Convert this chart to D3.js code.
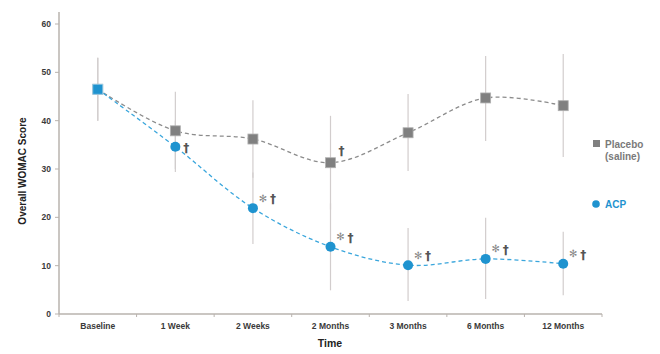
<!DOCTYPE html>
<html lang="en"><head>
<meta charset="utf-8">
<title>WOMAC</title>
<script src="https://cdnjs.cloudflare.com/ajax/libs/d3/7.8.5/d3.min.js"></script>
<style>
body { margin: 0; background: #fff; }
svg text { font-family: Arial, "Liberation Sans", sans-serif; font-weight: bold; }
svg text.mark { font-family: "DejaVu Sans", sans-serif; }
</style>
</head>
<body>
<svg id="chart" width="660" height="354"></svg>
<script>
// data
var timepoints = ["Baseline", "1 Week", "2 Weeks", "2 Months", "3 Months", "6 Months", "12 Months"];
var placebo    = [46.5, 37.9, 36.2, 31.3, 37.5, 44.7, 43.1];
var placeboLo  = [40.0, 30.0, 28.2, 21.6, 29.6, 35.8, 32.5];
var placeboHi  = [53.0, 46.0, 44.2, 41.0, 45.5, 53.4, 53.8];
var acp        = [46.5, 34.6, 21.9, 13.9, 10.1, 11.4, 10.4];
var acpLo      = [40.0, 29.4, 14.5, 4.9, 2.7, 3.1, 3.9];
var acpHi      = [53.0, 40.0, 29.3, 22.9, 17.8, 19.9, 17.0];
var yTicks     = [0, 10, 20, 30, 40, 50, 60];
// significance marks: index of the time point, asterisk shown?, dagger shown?
var acpMarks     = [[1, false, true], [2, true, true], [3, true, true], [4, true, true], [5, true, true], [6, true, true]];
var placeboMarks = [[3, false, true]];

var svg = d3.select("#chart");
var mLeft = 59, mRight = 602, mTop = 24, mBottom = 314;

var x = d3.scaleBand().domain(timepoints).range([mLeft, mRight]);
var y = d3.scaleLinear().domain([0, 60]).range([mBottom, mTop]);
var cx = function(i) { return x(timepoints[i]) + x.bandwidth() / 2; };

var grey = "#808080", blue = "#1f93cf", axisCol = "#b9b3ae", txt = "#3a3a3a";

// axes
svg.append("line").attr("x1", mLeft).attr("x2", mLeft).attr("y1", 12).attr("y2", mBottom)
  .attr("stroke", axisCol).attr("stroke-width", 1.5);
svg.append("line").attr("x1", mLeft).attr("x2", mRight).attr("y1", mBottom).attr("y2", mBottom)
  .attr("stroke", axisCol).attr("stroke-width", 1.5);

svg.selectAll(".ytick").data(yTicks).enter().append("line")
  .attr("x1", mLeft - 4).attr("x2", mLeft).attr("y1", d => y(d)).attr("y2", d => y(d))
  .attr("stroke", axisCol);
svg.selectAll(".ylab").data(yTicks).enter().append("text")
  .attr("x", mLeft - 8).attr("y", d => y(d) + 3)
  .attr("text-anchor", "end").attr("font-size", 8.5).attr("fill", txt)
  .text(d => d);

var bounds = timepoints.map((t, i) => x(t)).concat([mRight]);
svg.selectAll(".xtick").data(bounds).enter().append("line")
  .attr("x1", d => d).attr("x2", d => d).attr("y1", mBottom).attr("y2", mBottom + 3)
  .attr("stroke", axisCol);
svg.selectAll(".xlab").data(timepoints).enter().append("text")
  .attr("x", (d, i) => cx(i)).attr("y", 329)
  .attr("text-anchor", "middle").attr("font-size", 8.5).attr("fill", txt)
  .text(d => d);

svg.append("text").attr("x", 330).attr("y", 347).attr("text-anchor", "middle")
  .attr("font-size", 10.5).attr("fill", "#222").text("Time");
svg.append("text").attr("transform", "translate(26,171) rotate(-90)")
  .attr("text-anchor", "middle").attr("font-size", 10).attr("fill", "#222")
  .text("Overall WOMAC Score");

// error bars
function errBars(lo, hi) {
  svg.append("g").selectAll("line").data(lo).enter().append("line")
    .attr("x1", (d, i) => cx(i)).attr("x2", (d, i) => cx(i))
    .attr("y1", d => y(d)).attr("y2", (d, i) => y(hi[i]))
    .attr("stroke", "#d2cdcd").attr("stroke-width", 1.2);
}
errBars(placeboLo, placeboHi);
errBars(acpLo, acpHi);

// lines
var line = d3.line().x((d, i) => cx(i)).y(d => y(d)).curve(d3.curveCatmullRom.alpha(0.5));
svg.append("path").attr("d", line(placebo)).attr("fill", "none")
  .attr("stroke", "#8c8c8c").attr("stroke-width", 1.3).attr("stroke-dasharray", "4,3");
svg.append("path").attr("d", line(acp)).attr("fill", "none")
  .attr("stroke", "#3aa6dc").attr("stroke-width", 1.3).attr("stroke-dasharray", "4,3");

// markers
svg.append("g").selectAll("rect").data(placebo).enter().append("rect")
  .attr("x", (d, i) => cx(i) - 5).attr("y", d => y(d) - 5)
  .attr("width", 10).attr("height", 10).attr("fill", grey)
  .attr("stroke", "#b0b0b0").attr("stroke-width", 0.8);
svg.append("g").selectAll("circle").data(acp.slice(1)).enter().append("circle")
  .attr("cx", (d, i) => cx(i + 1)).attr("cy", d => y(d)).attr("r", 5)
  .attr("fill", blue);
// baseline point is shared by both groups: drawn as a blue square
svg.append("rect").attr("x", cx(0) - 5).attr("y", y(acp[0]) - 5)
  .attr("width", 10).attr("height", 10).attr("fill", blue)
  .attr("stroke", "#9fd0ea").attr("stroke-width", 0.8);

// significance marks
function marks(list, vals, dy) {
  var g = svg.append("g");
  list.forEach(function(m) {
    var px = cx(m[0]), py = y(vals[m[0]]);
    if (m[1]) {
      g.append("text").attr("class", "mark").attr("x", px + 10).attr("y", py + dy + 3.5)
        .attr("text-anchor", "middle").attr("font-size", 10).attr("font-weight", "normal")
        .attr("fill", "#8a8a8a").text("✻");
    }
    g.append("text").attr("class", "mark").attr("x", px + (m[1] ? 20 : 11)).attr("y", py + dy + 5)
      .attr("text-anchor", "middle").attr("font-size", 12)
      .attr("fill", "#555555").text("†");
  });
}
marks(acpMarks.filter(m => m[1]), acp, -10);
marks(acpMarks.filter(m => !m[1]), acp, 0);
marks(placeboMarks, placebo, -13);

// legend
svg.append("rect").attr("x", 593).attr("y", 140).attr("width", 7).attr("height", 7).attr("fill", grey);
svg.append("text").attr("x", 605).attr("y", 147.5).attr("font-size", 10).attr("fill", "#7a7a7a").text("Placebo");
svg.append("text").attr("x", 605).attr("y", 159.5).attr("font-size", 10).attr("fill", "#7a7a7a").text("(saline)");
svg.append("circle").attr("cx", 596).attr("cy", 204).attr("r", 3.8).attr("fill", blue);
svg.append("text").attr("x", 605).attr("y", 207.5).attr("font-size", 10).attr("fill", blue).text("ACP");
</script>
</body></html>
